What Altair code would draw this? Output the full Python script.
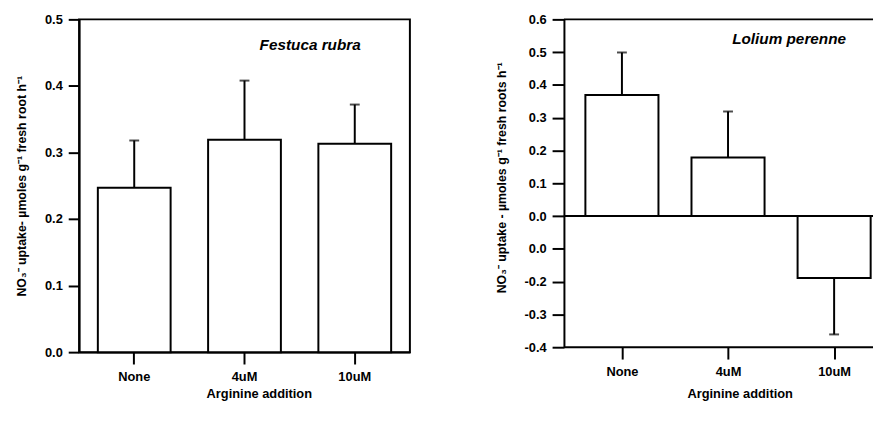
import altair as alt
import pandas as pd

categories = ["None", "4uM", "10uM"]
festuca_mean = [0.247, 0.319, 0.313]
festuca_err = [0.071, 0.089, 0.059]
lolium_mean = [0.369, 0.179, -0.189]
lolium_err = [0.130, 0.140, 0.172]

y_title_left = "NO\u2083\u207b uptake- \u00b5moles g\u207b\u00b9 fresh root h\u207b\u00b9"
y_title_right = "NO\u2083\u207b uptake - \u00b5moles g\u207b\u00b9 fresh roots h\u207b\u00b9"
x_title = "Arginine addition"

FONT = "Liberation Sans"


def make_df(means, errs):
    return pd.DataFrame({
        "cat": categories,
        "idx": list(range(len(categories))),
        "mean": means,
        "end": [m + (e if m >= 0 else -e) for m, e in zip(means, errs)],
    })


df1 = make_df(festuca_mean, festuca_err)
df2 = make_df(lolium_mean, lolium_err)

# ---- Left panel: Festuca rubra
W1, H1 = 335, 337
x1 = alt.X("cat:N", sort=categories,
           scale=alt.Scale(paddingInner=0.34, paddingOuter=0.17),
           axis=alt.Axis(title=x_title, labelAngle=0, tickSize=12, labelPadding=7,
                         titlePadding=4, titleX=182, titleAlign="center"))
y1_scale = alt.Scale(domain=[0, 0.5], nice=False)
y1_axis = alt.Axis(title=y_title_left, values=[0, 0.1, 0.2, 0.3, 0.4, 0.5],
                   format=".1f", tickSize=11, labelPadding=6, titlePadding=16,
                   labelOverlap=False)
Y1 = lambda f: alt.Y(f, scale=y1_scale, axis=y1_axis)

base1 = alt.Chart(df1)
err1 = base1.mark_rule(color="black", strokeWidth=2).encode(
    x=x1, y=Y1("mean:Q"), y2="end:Q")
cap1 = base1.mark_tick(color="black", thickness=2, size=10).encode(
    x=x1, y=Y1("end:Q"))
bars1 = base1.mark_bar(fill="white", stroke="black", strokeWidth=2).encode(
    x=x1, y=Y1("mean:Q"))
label1 = alt.Chart(pd.DataFrame({"t": ["Festuca rubra"]})).mark_text(
    font=FONT, fontSize=15.5, fontWeight="bold", fontStyle="italic", color="black",
    align="center", baseline="middle").encode(
    text="t:N", x=alt.value(234), y=alt.value(26))

left = alt.layer(err1, bars1, cap1, label1).properties(width=W1, height=H1)

# ---- Right panel: Lolium perenne (index scale so the last band runs off the frame)
W2, H2 = 313, 332
x2_scale = alt.Scale(domain=[-0.5, 2.32], nice=False, zero=False)
x2_axis = alt.Axis(title=x_title, values=[0, 1, 2],
                   labelExpr="['None', '4uM', '10uM'][datum.value]",
                   labelAngle=0, tickSize=12, labelPadding=7, titlePadding=9,
                   titleX=178, titleAlign="center", domain=False, labelFlush=False)
X2 = alt.X("idx:Q", scale=x2_scale, axis=x2_axis)
y2_scale = alt.Scale(domain=[-0.4, 0.6], nice=False)
y2_axis = alt.Axis(title=y_title_right,
                   values=[-0.4, -0.3, -0.2, -0.1, 0, 0.1, 0.2, 0.3, 0.4, 0.5, 0.6],
                   labelExpr="abs(datum.value + 0.1) < 1e-6 ? '0.0' : (datum.value < -1e-9 ? '-' + format(abs(datum.value), '.1f') : format(abs(datum.value), '.1f'))",
                   tickSize=12, labelPadding=6, titlePadding=16, titleY=160,
                   labelOverlap=False)
Y2 = lambda f: alt.Y(f, scale=y2_scale, axis=y2_axis)

base2 = alt.Chart(df2)
err2 = base2.mark_rule(color="black", strokeWidth=2).encode(
    x=X2, y=Y2("mean:Q"), y2="end:Q")
cap2 = base2.mark_tick(color="black", thickness=2, size=10, orient="horizontal").encode(
    x=X2, y=Y2("end:Q"))
bars2 = base2.mark_bar(fill="white", stroke="black", strokeWidth=2, size=74,
                       orient="vertical").encode(
    x=X2, y=Y2("mean:Q"), y2=alt.datum(0))
lines2 = alt.Chart(pd.DataFrame({"yv": [0.6, 0.0, -0.4]})).mark_rule(
    color="black", strokeWidth=2).encode(
    y=Y2("yv:Q"), x=alt.value(0), x2=alt.value(W2))
label2 = alt.Chart(pd.DataFrame({"t": ["Lolium perenne"]})).mark_text(
    font=FONT, fontSize=15.5, fontWeight="bold", fontStyle="italic", color="black",
    align="center", baseline="middle").encode(
    text="t:N", x=alt.value(228), y=alt.value(20))

right = alt.layer(err2, bars2, cap2, lines2, label2).properties(
    width=W2, height=H2, view=alt.ViewConfig(stroke=None))

chart = alt.hconcat(left, right, spacing=85).properties(
    padding={"left": 6, "top": 2, "right": 0, "bottom": 0},
    background="white",
).configure_view(stroke="black", strokeWidth=2).configure_axis(
    labelFont=FONT, labelFontWeight="bold", labelFontSize=13, labelColor="black",
    titleFont=FONT, titleFontWeight="bold", titleFontSize=12.5, titleColor="black",
    tickColor="black", domainColor="black", tickWidth=2, domainWidth=2, grid=False
).configure_axisX(titleFontSize=13)

chart.save("out.html", embed_options={"renderer": "svg", "actions": False})
